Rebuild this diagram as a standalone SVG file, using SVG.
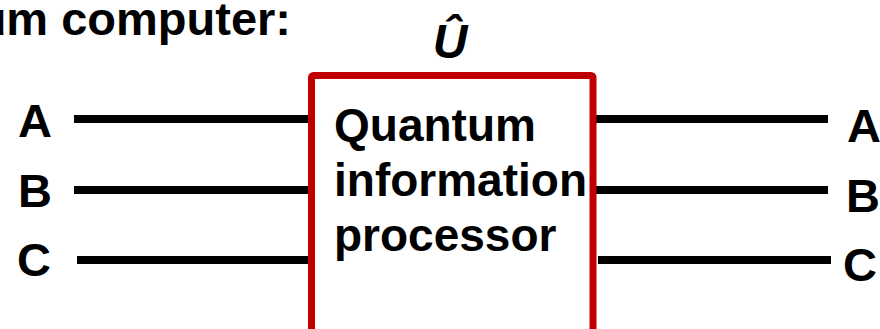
<svg xmlns="http://www.w3.org/2000/svg" width="880" height="329" viewBox="0 0 880 329">
<style>
.t{font-family:"Liberation Sans",Arial,sans-serif;font-weight:bold;fill:#000}
.w{stroke:#000;stroke-width:8;fill:none}
.l{font-size:47px;text-anchor:middle}
</style>
<rect width="880" height="329" fill="#fff"/>
<text class="t" x="291" y="35" font-size="47" text-anchor="end">um computer:</text>
<g id="connectors">
<line class="w" x1="74" y1="119" x2="308" y2="119"/>
<line class="w" x1="74" y1="190" x2="308" y2="190"/>
<line class="w" x1="77" y1="260" x2="310" y2="260"/>
<line class="w" x1="595" y1="119" x2="828" y2="119"/>
<line class="w" x1="595" y1="190" x2="828" y2="190"/>
<line class="w" x1="598" y1="260" x2="831" y2="260"/>
</g>
<g id="inA"><text class="t l" x="35" y="137">A</text></g>
<g id="inB"><text class="t l" x="35" y="207">B</text></g>
<g id="inC"><text class="t l" x="34" y="276">C</text></g>
<g id="outA"><text class="t l" x="864" y="142">A</text></g>
<g id="outB"><text class="t l" x="863" y="212">B</text></g>
<g id="outC"><text class="t l" x="860" y="281">C</text></g>
<g id="processor">
<rect x="311.5" y="75.5" width="281.5" height="270" rx="2" fill="#fff" stroke="#C00000" stroke-width="7"/>
<text class="t" x="334" y="141" font-size="46">Quantum</text>
<text class="t" x="334" y="196" font-size="46">information</text>
<text class="t" x="334" y="251" font-size="46">processor</text>
</g>
<g id="U"><text class="t" x="450" y="58" font-size="48" font-style="italic" text-anchor="middle">Û</text></g>
</svg>
